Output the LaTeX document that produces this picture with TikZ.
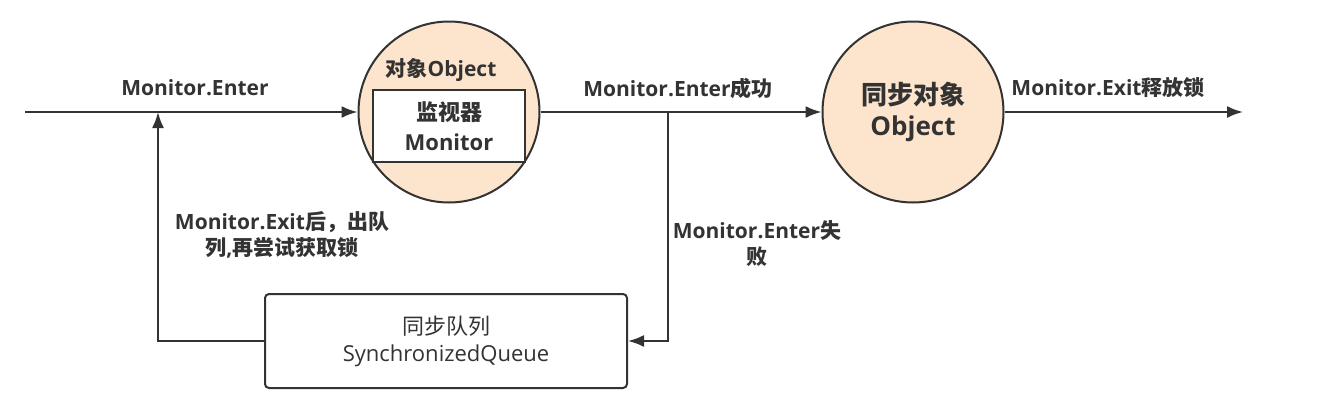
\documentclass[tikz,border=0pt]{standalone}
\usepackage{fontspec}
\setmainfont{Open Sans}
\newfontfamily\cjk{Noto Sans CJK SC}
\usetikzlibrary{arrows.meta}
\definecolor{peach}{RGB}{253,229,205}
\definecolor{ink}{RGB}{51,51,51}

\begin{document}
\begin{tikzpicture}[
	x=1pt, y=-1pt,
	flow/.style={draw=ink, line width=2pt, -{Latex[length=16pt,width=12pt]}},
	disc/.style={circle, draw=ink, line width=2pt, fill=peach, minimum size=181pt, inner sep=0pt},
	lbl/.style={text=ink, font=\bfseries\fontsize{21}{26}\selectfont, align=center, inner sep=0pt}
	]
	\useasboundingbox (0,0) rectangle (1318,410);

	\node (object) at (449, 112) [disc] {};
	\node (objname) at (441, 70) [lbl] {{\cjk\bfseries 对象}Object};
	\node (monitor) at (449, 126) [draw=ink, line width=2pt, fill=white, minimum width=152pt, minimum height=72pt, lbl, font=\bfseries\fontsize{22}{30}\selectfont] {{\cjk\bfseries 监视器}\\Monitor};
	\node (syncobj) at (913, 112) [disc, lbl, font=\bfseries\fontsize{26}{31}\selectfont] {{\cjk\bfseries 同步对象}\\Object};
	\node (queue) at (446, 341) [draw=ink, line width=2pt, rounded corners=4pt, minimum width=362pt, minimum height=94pt, lbl, font=\fontsize{22}{27}\selectfont] {{\cjk 同步队列}\\SynchronizedQueue};

	\coordinate (start) at (25, 112);
	\coordinate (finish) at (1243, 112);
	\coordinate (split) at (668, 112);
	\coordinate (join) at (158, 112);

	\draw [flow] (start) -- (object);
	\draw [flow] (object) -- (syncobj);
	\draw [flow] (syncobj) -- (finish);
	\draw [flow] (split) |- (queue);
	\draw [flow] (queue) -| (join);

	\node (entering) at (195, 88) [lbl] {Monitor.Enter};
	\node (entered) at (678, 88) [lbl] {Monitor.Enter{\cjk\bfseries 成功}};
	\node (released) at (1108, 88) [lbl] {Monitor.Exit{\cjk\bfseries 释放锁}};
	\node (failed) at (757, 244) [lbl] {Monitor.Enter{\cjk\bfseries 失}\\{\cjk\bfseries 败}};
	\node (retry) at (282, 235) [lbl] {Monitor.Exit{\cjk\bfseries 后，出队}\\{\cjk\bfseries 列},{\cjk\bfseries 再尝试获取锁}};
\end{tikzpicture}
\end{document}
